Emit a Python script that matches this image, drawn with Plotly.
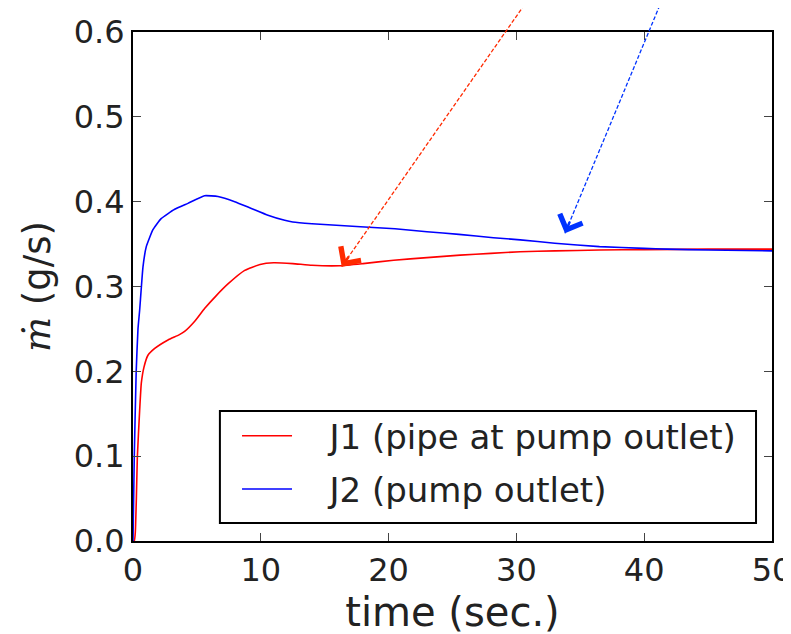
import plotly.graph_objects as go

# J1 (pipe at pump outlet)
t_j1 = [0, 0.1, 0.18, 0.26, 0.34, 0.52, 0.65, 0.86, 1.17, 1.7, 2.74, 3.6, 4.04, 4.83, 5.6, 6.5,
        7.43, 8.74, 9.94, 11.0, 12.5, 14.0, 16.2, 18.0, 20.4, 23.0, 25.6, 28.0, 30.3,
        33.0, 36.5, 40.0, 45.0, 50.0]
m_j1 = [0, 0.0, 0.01, 0.048, 0.099, 0.154, 0.186, 0.205, 0.219, 0.227, 0.237, 0.243, 0.247, 0.259, 0.274, 0.289,
        0.303, 0.319, 0.326, 0.328, 0.327, 0.325, 0.3245, 0.327, 0.331, 0.334, 0.337, 0.339, 0.341,
        0.342, 0.343, 0.3435, 0.344, 0.344]

# J2 (pump outlet)
t_j2 = [0, 0.1, 0.25, 0.39, 0.52, 0.78, 1.04, 1.56, 2.2, 3.26, 4.3, 5.6, 6.65, 7.96, 9.26,
        10.56, 11.87, 12.5, 14.0, 17.8, 20.5, 23.0, 25.5, 28.2, 30.3, 33.0, 36.5, 40.0,
        41.8, 45.0, 50.0]
m_j2 = [0, 0.1, 0.2, 0.25, 0.272, 0.323, 0.347, 0.367, 0.380, 0.391, 0.398, 0.407, 0.406, 0.400, 0.392,
        0.384, 0.378, 0.376, 0.374, 0.3705, 0.368, 0.3646, 0.3615, 0.3575, 0.355, 0.351, 0.347, 0.345,
        0.344, 0.343, 0.342]

# annotation arrows: (tip_t, tip_m, tail_t, tail_m)
arrow_j1 = [16.33, 0.3234, 30.9, 0.638]
arrow_j2 = [33.8, 0.3627, 41.4, 0.638]

x_range = [0, 50]
y_range = [0, 0.6]
x_ticks = [0, 10, 20, 30, 40, 50]
y_ticks = [0.0, 0.1, 0.2, 0.3, 0.4, 0.5, 0.6]
y_tick_text = ["0.0", "0.1", "0.2", "0.3", "0.4", "0.5", "0.6"]

FONT = "DejaVu Sans"
TXT = "#222222"
PAD = "\u00a0\u00a0\u00a0"

fig = go.Figure()
fig.add_trace(go.Scatter(x=t_j1, y=m_j1, mode="lines", name=PAD + "J1 (pipe at pump outlet)",
                         line=dict(color="#ff0000", width=1.6, shape="spline", smoothing=0.4),
                         legendgroup="a"))
fig.add_trace(go.Scatter(x=t_j2, y=m_j2, mode="lines", name=PAD + "J2 (pump outlet)",
                         line=dict(color="#0000ff", width=1.6, shape="spline", smoothing=0.4),
                         legendgroup="b"))


def to_paper(t, m):
    return ((t - x_range[0]) / (x_range[1] - x_range[0]),
            (m - y_range[0]) / (y_range[1] - y_range[0]))


shapes = []
annotations = []
for arr, col in [(arrow_j1, "#ff2a00"), (arrow_j2, "#0033ff")]:
    tx, ty = to_paper(arr[0], arr[1])
    sx, sy = to_paper(arr[2], arr[3])
    shapes.append(dict(type="line", xref="paper", yref="paper", x0=sx, y0=sy, x1=tx, y1=ty,
                       line=dict(color=col, width=1.3, dash="4px,2px"), layer="above"))
    dxp = (arr[2] - arr[0]) * 12.78
    dyp = (arr[3] - arr[1]) * 848.3
    L = (dxp ** 2 + dyp ** 2) ** 0.5
    annotations.append(dict(x=arr[0], y=arr[1], xref="x", yref="y", text="", showarrow=True,
                            ax=dxp / L * 14, ay=-dyp / L * 14, axref="pixel", ayref="pixel",
                            arrowhead=4, arrowsize=1.9, arrowwidth=2.5, arrowcolor=col,
                            standoff=0))

# legend frame (drawn as a paper rectangle)
shapes.append(dict(type="rect", xref="paper", yref="paper", x0=0.136, x1=0.975, y0=0.0354, y1=0.2554,
                   line=dict(color="black", width=2), fillcolor="white", layer="above"))

# the page body has an 8px margin; margins below place the plot area at 133..772 x 32..541
fig.update_layout(
    width=791, height=634,
    margin=dict(l=125, r=27, t=24, b=101, autoexpand=False),
    paper_bgcolor="white", plot_bgcolor="white",
    font=dict(family=FONT, color="black"),
    shapes=shapes, annotations=annotations,
    showlegend=True,
    legend=dict(x=0.1628, y=0.263, xanchor="left", yanchor="top",
                borderwidth=0, bgcolor="rgba(0,0,0,0)",
                font=dict(family=FONT, size=34, color=TXT),
                tracegroupgap=6, itemwidth=50),
)
fig.update_xaxes(range=x_range, tickvals=x_ticks, ticks="inside", ticklen=8, tickwidth=1,
                 tickcolor="#444", showline=True, linecolor="black", linewidth=2, mirror="allticks",
                 showgrid=False, zeroline=False, ticklabeloverflow="allow", automargin=False,
                 tickfont=dict(family=FONT, size=32, color=TXT),
                 title=dict(text="time (sec.)", font=dict(family=FONT, size=40, color=TXT), standoff=8))
fig.update_yaxes(range=y_range, tickvals=y_ticks, ticktext=y_tick_text, ticks="inside", ticklen=8,
                 tickwidth=1, tickcolor="#444", showline=True, linecolor="black", linewidth=2,
                 mirror="allticks", showgrid=False, zeroline=False, ticklabeloverflow="allow",
                 automargin=False,
                 tickfont=dict(family=FONT, size=32, color=TXT),
                 title=dict(text="<span style=\"font-family:DejaVu Serif\"><i>ṁ</i></span> (g/s)",
                            font=dict(family=FONT, size=37, color=TXT), standoff=12))

fig.write_html("out.html")
